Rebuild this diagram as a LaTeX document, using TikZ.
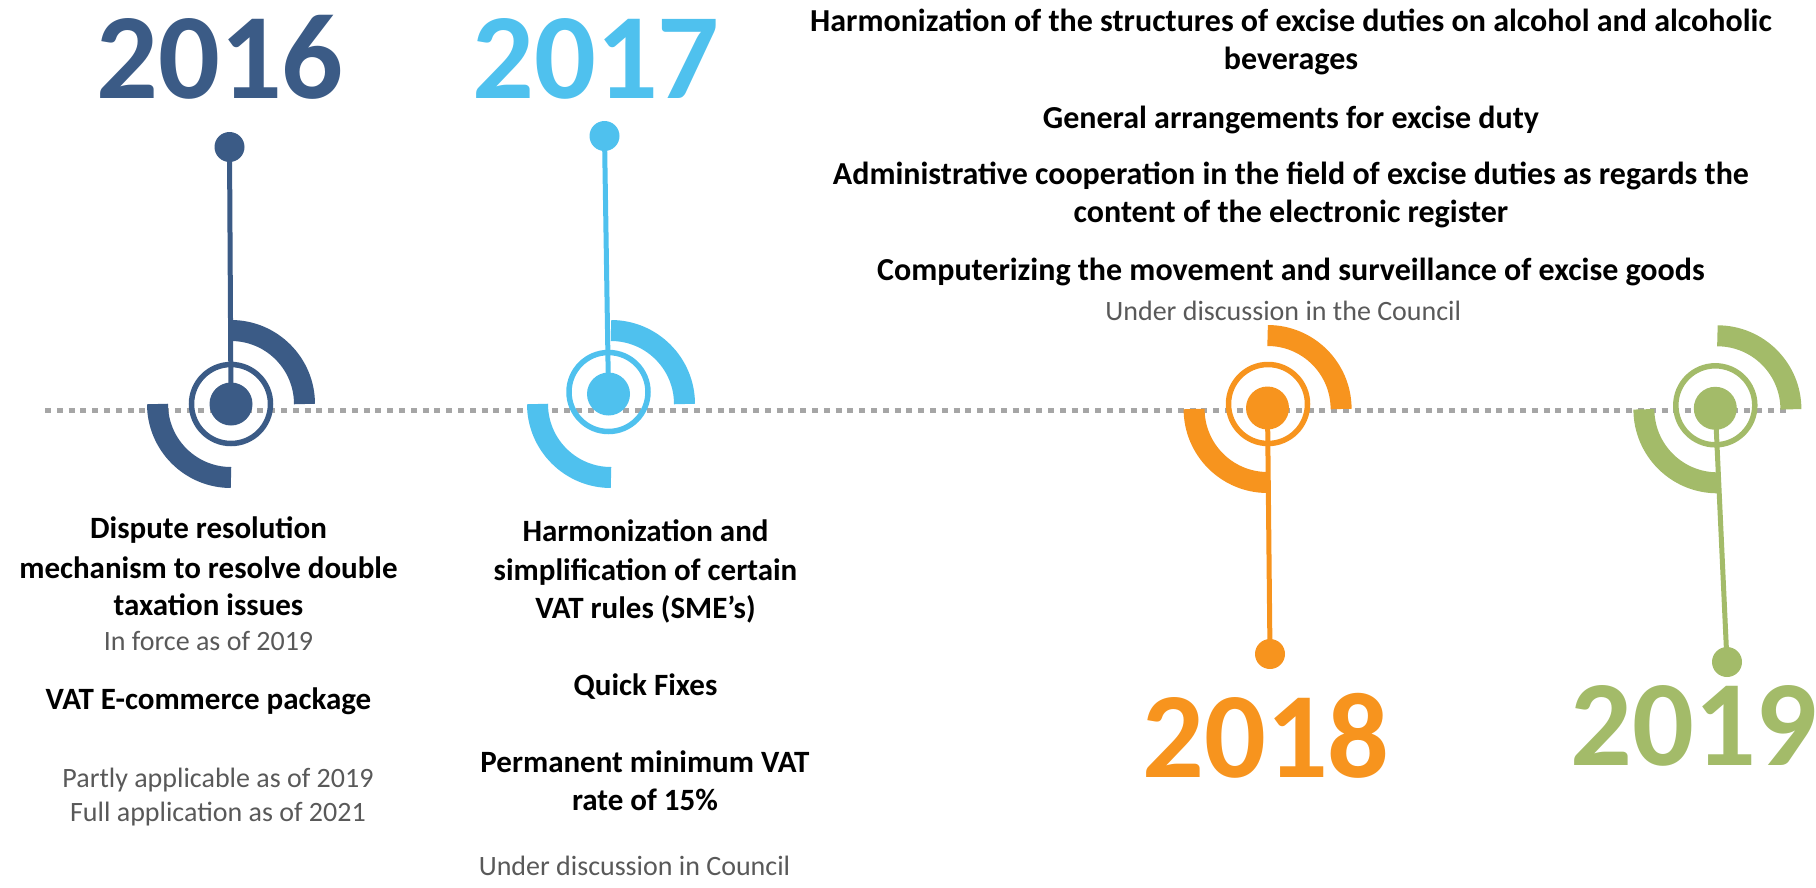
\documentclass[tikz,border=0pt]{standalone}
\usepackage{fontspec}
\setmainfont{Carlito}
\definecolor{cA}{HTML}{3B5B86}
\definecolor{cB}{HTML}{4FC1EE}
\definecolor{cC}{HTML}{F7941E}
\definecolor{cD}{HTML}{A3BB69}
\definecolor{dotgray}{HTML}{A6A6A6}
\definecolor{notegray}{HTML}{595959}
\begin{document}
\begin{tikzpicture}[x=1pt,y=-1pt,
  head/.style={font=\fontsize{31}{37}\selectfont\bfseries, anchor=base, inner sep=0pt},
  headtop/.style={font=\fontsize{32}{38}\selectfont\bfseries, anchor=base, inner sep=0pt},
  note/.style={font=\fontsize{28}{34}\selectfont, text=notegray, anchor=base, inner sep=0pt},
  yearlabel/.style={font=\fontsize{122}{140}\selectfont\bfseries, anchor=base, inner sep=0pt},
  band/.style={line width=21pt},
  ringnode/.style={circle, draw, line width=5.5pt, minimum size=79pt, inner sep=0pt},
  bigdot/.style={circle, minimum size=43pt, inner sep=0pt},
  pin/.style={circle, minimum size=30pt, inner sep=0pt},
  stem/.style={line width=5pt},
  timeline/.style={draw=dotgray, line width=5pt, dash pattern=on 6pt off 5.8pt}
]
\useasboundingbox (0,0) rectangle (1816,887);

% timeline
\coordinate (lineL) at (45,410);
\coordinate (lineR) at (1790,410);
\draw[timeline] (lineL) -- (lineR);

% ---------------- 2016 ----------------
\coordinate (a16) at (231,404);
\draw[band, cA] ([xshift=73.5pt]a16) arc[start angle=0, end angle=-90, radius=73.5];
\draw[band, cA] ([xshift=-73.5pt]a16) arc[start angle=180, end angle=90, radius=73.5];
\node[ringnode, draw=cA] (r16) at (231,404) {};
\node[bigdot, fill=cA] (d16) at (231,404) {};
\node[pin, fill=cA] (t16) at (229.5,147) {};
\draw[stem, cA] (t16.center) -- (d16.center);
\node[yearlabel, text=cA] (y16) at (220,98) {2016};

% ---------------- 2017 ----------------
\coordinate (a17) at (611,404);
\draw[band, cB] ([xshift=73.5pt]a17) arc[start angle=0, end angle=-90, radius=73.5];
\draw[band, cB] ([xshift=-73.5pt]a17) arc[start angle=180, end angle=90, radius=73.5];
\node[ringnode, draw=cB] (r17) at (608.5,392) {};
\node[bigdot, fill=cB] (d17) at (608.5,394) {};
\node[pin, fill=cB] (t17) at (604.5,136) {};
\draw[stem, cB] (t17.center) -- (d17.center);
\node[yearlabel, text=cB] (y17) at (596,98) {2017};

% ---------------- 2018 ----------------
\coordinate (a18) at (1267.6,409);
\draw[band, cC] ([xshift=73.5pt]a18) arc[start angle=0, end angle=-90, radius=73.5];
\draw[band, cC] ([xshift=-73.5pt]a18) arc[start angle=180, end angle=90, radius=73.5];
\node[ringnode, draw=cC] (r18) at (1268,404) {};
\node[bigdot, fill=cC] (d18) at (1267.5,408) {};
\node[pin, fill=cC] (t18) at (1270,654) {};
\draw[stem, cC] (d18.center) -- (t18.center);
\node[yearlabel, text=cC] (y18) at (1266,777) {2018};

% ---------------- 2019 ----------------
\coordinate (a19) at (1717.4,409.3);
\draw[band, cD] ([xshift=73.5pt]a19) arc[start angle=0, end angle=-90, radius=73.5];
\draw[band, cD] ([xshift=-73.5pt]a19) arc[start angle=180, end angle=90, radius=73.5];
\node[ringnode, draw=cD] (r19) at (1715.3,405.3) {};
\node[bigdot, fill=cD] (d19) at (1715.3,408.3) {};
\node[pin, fill=cD] (t19) at (1727,662) {};
\draw[stem, cD] (d19.center) -- (t19.center);
\node[yearlabel, text=cD] (y19) at (1694,765) {2019};

% ---------------- 2016 texts ----------------
\node[head] (l1) at (208.5,538.3) {Dispute resolution};
\node[head] (l2) at (208.5,578.3) {mechanism to resolve double};
\node[head] (l3) at (208.5,615) {taxation issues};
\node[note] (l4) at (208.5,650.7) {In force as of 2019};
\node[head] (l5) at (208.5,709.3) {VAT E-commerce package};
\node[note] (l6) at (218,787.3) {Partly applicable as of 2019};
\node[note] (l7) at (218,821.7) {Full application as of 2021};

% ---------------- 2017 texts ----------------
\node[head] (m1) at (645.5,541.7) {Harmonization and};
\node[head] (m2) at (645.5,580.7) {simplification of certain};
\node[head] (m3) at (645.5,618.3) {VAT rules (SME’s)};
\node[head] (m4) at (645.5,695) {Quick Fixes};
\node[head] (m5) at (645,772.7) {Permanent minimum VAT};
\node[head] (m6) at (645,810.7) {rate of 15\%};
\node[note] (m7) at (634.5,875) {Under discussion in Council};

% ---------------- 2018 texts ----------------
\node[headtop] (u1) at (1291,31.7) {Harmonization of the structures of excise duties on alcohol and alcoholic};
\node[headtop] (u2) at (1291,69.3) {beverages};
\node[headtop] (u3) at (1291,128.3) {General arrangements for excise duty};
\node[headtop] (u4) at (1291,184.3) {Administrative cooperation in the field of excise duties as regards the};
\node[headtop] (u5) at (1291,222.7) {content of the electronic register};
\node[headtop] (u6) at (1291,280) {Computerizing the movement and surveillance of excise goods};
\node[note] (u7) at (1283.3,320) {Under discussion in the Council};
\end{tikzpicture}
\end{document}
